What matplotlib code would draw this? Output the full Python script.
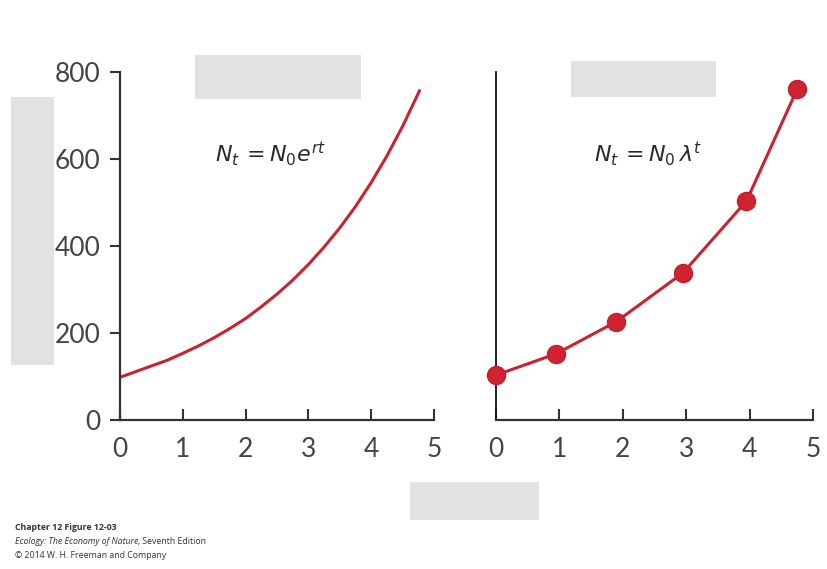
import matplotlib.pyplot as plt
from matplotlib.patches import Rectangle

# continuous growth curve (left)
t_cont = [0, 0.25, 0.5, 0.75, 1, 1.25, 1.5, 1.75, 2, 2.25, 2.5, 2.75,
          3, 3.25, 3.5, 3.75, 4, 4.25, 4.5, 4.78]
n_cont = [98, 111, 124, 137, 153, 170, 189, 210, 233, 260, 289, 321,
          357, 397, 441, 490, 545, 606, 674, 759]

# discrete growth points (right)
t_disc = [0, 0.95, 1.9, 2.95, 3.95, 4.75]
n_disc = [103, 152, 226, 338, 503, 760]

x_ticks = [0, 1, 2, 3, 4, 5]
y_ticks = [0, 200, 400, 600, 800]

red = "#c8232f"
axis_col = "#333333"
txt_col = "#444444"

plt.rcParams["font.family"] = ["Lato", "DejaVu Sans"]
plt.rcParams["mathtext.fontset"] = "dejavusans"

fig = plt.figure(figsize=(8.28, 5.69), dpi=100)
fig.patch.set_facecolor("white")

ax1 = fig.add_axes([0.145, 0.262, 0.379, 0.612])
ax2 = fig.add_axes([0.599, 0.262, 0.383, 0.612])

for ax in (ax1, ax2):
    ax.set_xlim(0, 5)
    ax.set_ylim(0, 800)
    ax.spines["top"].set_visible(False)
    ax.spines["right"].set_visible(False)
    ax.spines["bottom"].set_color(axis_col)
    ax.spines["bottom"].set_linewidth(1.6)
    ax.set_xticks(x_ticks)
    ax.tick_params(axis="x", direction="in", length=8, width=1.5,
                   color=axis_col, labelsize=19, labelcolor=txt_col, pad=12)
    ax.patch.set_alpha(0)

ax1.spines["left"].set_color(axis_col)
ax1.spines["left"].set_linewidth(1.6)
ax1.set_yticks(y_ticks)
ax1.tick_params(axis="y", direction="out", length=7, width=1.5,
                color=axis_col, labelsize=19, labelcolor=txt_col, pad=7)

ax2.spines["left"].set_color("#111111")
ax2.spines["left"].set_linewidth(1.3)
ax2.set_yticks([])

ax1.plot(t_cont, n_cont, color=red, lw=2.2, solid_capstyle="butt")
ax2.plot(t_disc, n_disc, color=red, lw=2.2, marker="o", markersize=13,
         markerfacecolor="#d1232f", markeredgecolor="#c01f2b", clip_on=False,
         zorder=3)

ax1.text(2.4, 610, r"$N_t\,=N_0e^{rt}$", fontsize=16, ha="center",
         va="center", color="#2a2a2a")
ax2.text(2.4, 610, r"$N_t\,=N_0\,\lambda^t$", fontsize=16, ha="center",
         va="center", color="#2a2a2a")

# blurred redacted label boxes
def blur_box(x0, y0, x1, y1):
    W, H = 828, 569
    for k, a in [(4, 0.25), (2, 0.45), (0, 1.0)]:
        fig.patches.append(Rectangle(((x0 + k) / W, 1 - (y1 - k) / H),
                                     (x1 - x0 - 2 * k) / W, (y1 - y0 - 2 * k) / H,
                                     transform=fig.transFigure,
                                     facecolor="#e2e1e3", alpha=a,
                                     edgecolor="none", zorder=0))

blur_box(195, 55, 361, 99)
blur_box(11, 97, 54, 365)
blur_box(571, 61, 716, 97)
blur_box(410, 482, 539, 520)

foot = dict(fontsize=6.3, color="#333333", va="center",
            family=["Open Sans", "DejaVu Sans"])
fig.text(0.018, 1 - 527 / 569, "Chapter 12 Figure 12-03",
         fontweight="bold", **foot)
t1 = fig.text(0.018, 1 - 542 / 569, "Ecology: The Economy of Nature,",
              style="italic", **foot)
ax1.annotate(" Seventh Edition", xy=(1, 0.5), xycoords=t1,
             annotation_clip=False, **foot)
fig.text(0.018, 1 - 556 / 569, "\u00a9 2014 W. H. Freeman and Company",
         **foot)

plt.savefig("out.png", dpi=100)
plt.close()
